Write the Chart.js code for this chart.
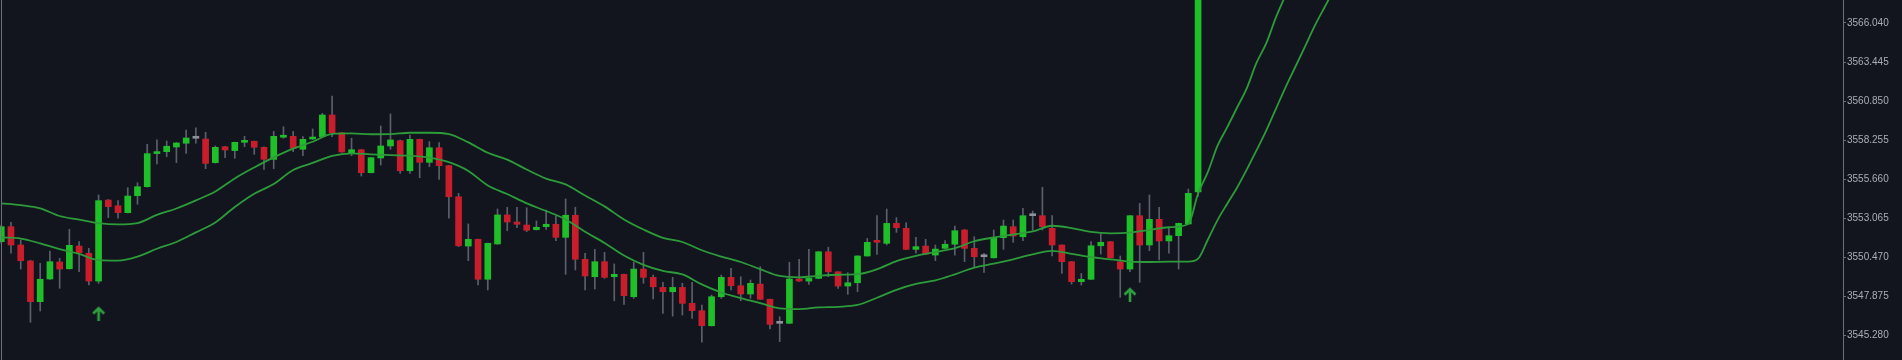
<!DOCTYPE html>
<html>
<head>
<meta charset="utf-8">
<script src="https://cdn.jsdelivr.net/npm/chart.js@4.4.0/dist/chart.umd.min.js"></script>
<style>
  html, body { margin: 0; padding: 0; background: #12151e; }
  #wrap { width: 1902px; height: 360px; position: relative; }
  #edge { position: absolute; left: 1px; top: 0; width: 1px; height: 360px; background: #6b7079; }
</style>
</head>
<body>
<div id="wrap"><canvas id="chart" width="1902" height="360"></canvas><div id="edge"></div></div>
<script>
// OHLC per bar
const opens = [3551.49,3552.49,3551.27,3550.21,3547.50,3549.01,3550.14,3549.69,3551.20,3550.72,
  3548.87,3554.26,3553.88,3553.42,3554.55,3555.15,3557.35,3557.48,3557.79,3558.04,
  3558.37,3558.32,3556.75,3557.81,3557.55,3558.10,3558.17,3557.77,3556.97,3558.44,
  3558.50,3557.64,3558.32,3558.48,3559.92,3558.74,3557.41,3557.61,3556.08,3557.06,
  3557.86,3558.21,3556.21,3558.30,3556.77,3557.74,3556.55,3554.48,3551.20,3551.65,
  3548.99,3551.34,3553.27,3552.80,3552.60,3552.29,3552.49,3552.65,3551.78,3553.25,
  3550.32,3549.16,3550.16,3549.16,3549.32,3547.83,3549.67,3549.12,3548.45,3548.16,
  3548.45,3547.39,3546.90,3545.90,3547.83,3549.12,3548.56,3548.01,3548.67,3547.66,
  3546.06,3546.06,3549.01,3548.87,3549.05,3550.82,3549.49,3548.54,3548.76,3550.54,
  3551.47,3551.38,3552.71,3552.38,3550.98,3551.20,3550.60,3551.05,3551.32,3552.27,
  3551.05,3550.49,3550.42,3551.76,3552.49,3551.82,3553.22,3553.22,3552.38,3551.27,
  3550.16,3548.83,3548.99,3551.22,3551.49,3550.16,3549.67,3553.22,3551.27,3552.98,
  3551.54,3551.89,3552.67,3554.80];
const highs = [3552.60,3552.78,3551.60,3550.25,3550.05,3550.87,3550.38,3552.31,3551.49,3551.05,
  3554.60,3554.30,3554.22,3555.08,3555.41,3557.97,3558.26,3558.19,3558.08,3558.92,
  3559.07,3558.77,3557.86,3557.84,3558.12,3558.50,3558.19,3557.80,3558.83,3559.14,
  3558.83,3558.48,3558.99,3560.03,3561.18,3558.76,3558.37,3557.63,3557.10,3559.19,
  3559.99,3558.26,3558.59,3558.32,3558.15,3558.08,3556.57,3554.71,3552.67,3551.67,
  3551.40,3553.67,3553.78,3553.78,3553.75,3552.87,3553.60,3553.20,3554.33,3553.78,
  3550.72,3550.98,3550.78,3550.01,3549.34,3550.12,3550.78,3549.27,3548.79,3549.12,
  3548.72,3548.79,3547.28,3547.94,3549.27,3549.72,3549.16,3548.94,3549.83,3547.68,
  3546.50,3550.12,3550.32,3550.98,3550.84,3551.12,3549.51,3549.43,3550.56,3551.71,
  3553.22,3553.66,3553.09,3552.75,3551.78,3551.65,3551.27,3551.56,3552.53,3552.31,
  3551.82,3550.72,3552.27,3552.93,3552.93,3553.71,3553.53,3555.11,3553.22,3551.29,
  3550.18,3549.38,3551.49,3552.00,3551.51,3550.54,3553.24,3554.04,3554.60,3553.78,
  3552.42,3552.73,3554.99,3572.00];
const lows = [3551.40,3550.72,3549.67,3546.13,3546.88,3548.98,3548.39,3549.67,3549.49,3548.61,
  3548.72,3553.09,3553.05,3553.40,3553.98,3555.12,3556.66,3557.14,3556.75,3557.37,
  3558.04,3556.35,3556.72,3557.08,3557.04,3557.81,3557.30,3556.30,3556.35,3558.37,
  3557.48,3557.21,3558.30,3558.46,3558.48,3557.44,3557.21,3555.86,3556.06,3556.59,
  3557.64,3556.04,3556.04,3555.75,3556.48,3555.64,3553.05,3551.16,3550.23,3548.61,
  3548.28,3551.32,3552.22,3552.42,3552.16,3552.27,3552.31,3551.56,3549.32,3549.61,
  3548.28,3548.34,3549.05,3547.56,3547.32,3547.72,3548.72,3547.68,3546.72,3546.54,
  3546.61,3546.39,3544.80,3545.88,3547.72,3548.28,3547.56,3547.72,3547.64,3545.68,
  3544.84,3546.04,3548.85,3548.65,3549.03,3549.16,3548.39,3547.99,3548.16,3550.52,
  3550.65,3551.27,3552.11,3550.96,3550.72,3550.65,3550.23,3551.03,3550.60,3550.16,
  3549.83,3549.45,3550.40,3550.98,3551.45,3551.56,3552.27,3552.27,3550.54,3549.38,
  3548.67,3548.61,3548.97,3550.67,3550.40,3547.79,3549.49,3548.79,3550.89,3550.27,
  3550.72,3549.67,3552.65,3554.50];
const closes = [3552.49,3551.27,3550.23,3547.50,3548.99,3550.16,3549.67,3551.25,3550.76,3548.87,
  3554.22,3553.82,3553.42,3554.53,3555.15,3557.35,3557.48,3557.84,3558.06,3558.39,
  3558.37,3556.70,3557.77,3557.59,3558.10,3558.19,3557.77,3556.97,3558.50,3558.50,
  3557.70,3558.30,3558.44,3559.92,3558.74,3557.46,3557.61,3556.08,3557.08,3557.86,
  3558.26,3556.21,3558.30,3556.77,3557.74,3556.55,3554.48,3551.22,3551.65,3548.99,
  3551.38,3553.27,3552.80,3552.65,3552.25,3552.45,3552.65,3551.78,3553.25,3550.32,
  3549.21,3550.16,3549.12,3549.32,3547.90,3549.67,3549.12,3548.49,3548.16,3548.45,
  3547.39,3546.90,3545.90,3547.83,3549.12,3548.56,3548.01,3548.72,3547.66,3545.99,
  3546.06,3549.01,3548.87,3549.05,3550.82,3549.49,3548.54,3548.76,3550.54,3551.45,
  3551.45,3552.71,3552.42,3550.98,3551.16,3550.67,3551.00,3551.32,3552.22,3551.05,
  3550.49,3550.49,3551.78,3552.53,3551.87,3553.22,3553.22,3552.49,3551.27,3550.16,
  3548.83,3548.99,3551.22,3551.45,3550.42,3549.67,3553.22,3551.27,3552.98,3551.54,
  3551.89,3552.71,3554.71,3572.00];

// moving-average bands (bar index, value)
const maIdx = [0,2,4,6,8,10,12,14,16,18,20,22,24,26,28,30,32,34,36,38,40,42,44,46,48,50,52,54,56,58,
  60,62,64,66,68,70,72,74,76,78,80,82,84,86,88,90,92,94,96,98,100,102,104,106,108,110,112,114,116,118,
  120,122,123,124,125,126,127,128,129,130,131,132,133,134,135,136,137];
const upperMA = [3554.04,3553.92,3553.71,3553.20,3552.96,3552.72,3552.64,3552.73,3553.27,3553.70,
  3554.24,3554.83,3555.70,3556.43,3557.10,3557.68,3558.14,3558.67,3558.70,3558.64,
  3558.65,3558.74,3558.74,3558.65,3558.10,3557.41,3556.95,3556.29,3555.69,3555.30,
  3554.56,3553.84,3552.97,3552.30,3551.75,3551.47,3550.92,3550.50,3550.14,3549.66,
  3549.21,3549.12,3549.22,3549.29,3549.33,3549.66,3550.20,3550.55,3550.80,3551.06,
  3551.52,3551.77,3551.97,3552.17,3552.55,3552.40,3552.14,3552.05,3552.09,3552.27,
  3552.45,3552.67,3554.70,3556.12,3557.88,3559.11,3560.40,3561.69,3563.38,3564.68,
  3566.41,3567.90];
const lowerMA = [3551.77,3551.70,3551.38,3550.99,3550.68,3550.26,3550.23,3550.50,3551.02,3551.47,
  3552.11,3552.77,3553.80,3554.68,3555.33,3556.26,3556.73,3557.20,3557.37,3557.30,
  3557.25,3557.21,3557.09,3556.78,3556.20,3555.23,3554.66,3554.04,3553.53,3552.97,
  3552.15,3551.41,3550.57,3549.95,3549.55,3549.31,3548.65,3548.11,3547.74,3547.41,
  3547.06,3547.01,3547.12,3547.16,3547.28,3547.76,3548.29,3548.68,3548.92,3549.32,
  3549.77,3550.03,3550.32,3550.64,3550.88,3550.68,3550.46,3550.32,3550.17,3550.14,
  3550.16,3550.16,3550.36,3551.62,3552.93,3554.02,3555.08,3556.29,3557.56,3558.88,
  3560.33,3561.78,3563.13,3564.49,3565.87,3567.09,3568.30];

// buy signal arrows
const signalIdx = [10, 116];
const signalPrice = [3546.74, 3548.00];

const priceTicks = [3545.280, 3547.875, 3550.470, 3553.065, 3555.660, 3558.255, 3560.850, 3563.445, 3566.040];

const UP = '#1fbf2a', DOWN = '#c81e2b', FLAT = '#8c919b', WICK = '#5a606b', MA = '#2d9b3a', AXIS = '#6b7079';

function candleColor(i) {
  if (closes[i] > opens[i]) return UP;
  if (closes[i] < opens[i]) return DOWN;
  return FLAT;
}

// arrow marker
const arrow = document.createElement('canvas');
arrow.width = 14; arrow.height = 16;
(function () {
  const c = arrow.getContext('2d');
  c.strokeStyle = '#2fa040';
  c.lineWidth = 2.6;
  c.lineCap = 'butt';
  c.lineJoin = 'miter';
  c.beginPath();
  c.moveTo(7, 3); c.lineTo(7, 16);
  c.moveTo(1.5, 8.5); c.lineTo(7, 3); c.lineTo(12.5, 8.5);
  c.stroke();
})();

const idx = opens.map((_, i) => i);

new Chart(document.getElementById('chart'), {
  type: 'bar',
  data: {
    datasets: [
      {
        label: 'wick',
        data: idx.map(i => ({ x: i, y: [lows[i], highs[i]] })),
        backgroundColor: WICK,
        barThickness: 1,
        grouped: false,
        order: 4
      },
      {
        label: 'body',
        data: idx.map(i => ({ x: i, y: [opens[i], closes[i]] })),
        backgroundColor: ctx => candleColor(ctx.dataIndex),
        barThickness: 6,
        minBarLength: 2,
        grouped: false,
        order: 3
      },
      {
        type: 'line',
        label: 'upper',
        data: upperMA.map((v, k) => ({ x: maIdx[k], y: v })),
        borderColor: MA,
        borderWidth: 1.8,
        pointRadius: 0,
        cubicInterpolationMode: 'monotone',
        order: 2
      },
      {
        type: 'line',
        label: 'lower',
        data: lowerMA.map((v, k) => ({ x: maIdx[k], y: v })),
        borderColor: MA,
        borderWidth: 1.8,
        pointRadius: 0,
        cubicInterpolationMode: 'monotone',
        order: 2
      },
      {
        type: 'scatter',
        label: 'signal',
        data: signalIdx.map((v, k) => ({ x: v, y: signalPrice[k] })),
        pointStyle: arrow,
        order: 1
      }
    ]
  },
  options: {
    responsive: false,
    animation: false,
    layout: { padding: 0, autoPadding: false },
    plugins: { legend: { display: false }, tooltip: { enabled: false } },
    scales: {
      x: {
        type: 'linear',
        display: false,
        offset: false,
        min: -0.13,
        max: 189.28
      },
      y: {
        position: 'right',
        min: 3543.62,
        max: 3567.57,
        afterBuildTicks: scale => { scale.ticks = priceTicks.map(v => ({ value: v })); },
        afterFit: scale => {
          scale.width = 59;
          scale.paddingTop = 0;
          scale.paddingBottom = 0;
        },
        border: { display: true, color: AXIS, width: 1 },
        grid: { drawOnChartArea: false, drawTicks: true, tickLength: 3, color: AXIS },
        ticks: {
          padding: 1,
          color: '#a9adb5',
          font: { family: '"Liberation Sans", Arial, sans-serif', size: 10 },
          callback: v => v.toFixed(3)
        }
      }
    }
  }
});
</script>
</body>
</html>
